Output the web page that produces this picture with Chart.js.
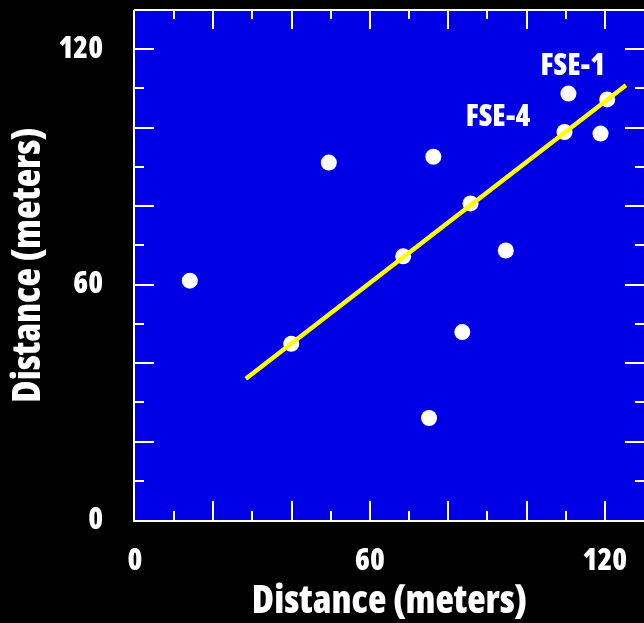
<!DOCTYPE html>
<html>
<head>
<meta charset="utf-8">
<script src="https://cdn.jsdelivr.net/npm/chart.js@4"></script>
<style>
  html, body { margin: 0; padding: 0; background: #000; overflow: hidden; }
  canvas { display: block; }
</style>
</head>
<body>
<canvas id="chart" width="644" height="623"></canvas>
<script>
var pointsX = [14.0, 39.9, 49.5, 68.5, 75.1, 76.2, 83.6, 85.7, 94.7, 109.7, 110.7, 118.9, 120.6];
var pointsY = [61.0, 44.9, 91.1, 67.2, 26.0, 92.6, 47.9, 80.7, 68.7, 98.9, 108.7, 98.5, 107.2];
var fitX = [28.3, 125.4];
var fitY = [36.0, 110.8];
var labelText = ['FSE-1', 'FSE-4'];
var labelX = [111.8, 92.7];
var labelY = [115.6, 102.6];
var tickLabels = [0, 60, 120];
var tickMarks = [10, 20, 30, 40, 50, 60, 70, 80, 90, 100, 110, 120];

var FONT = "'Open Sans', 'DejaVu Sans', sans-serif";
var WEIGHT = '800 condensed';

var points = pointsX.map(function(x, i) { return { x: x, y: pointsY[i] }; });
var fit = fitX.map(function(x, i) { return { x: x, y: fitY[i] }; });

// fond bleu, cadre et petites graduations vers l'intérieur
var frame = {
  id: 'frame',
  beforeDatasetsDraw: function(chart) {
    var ctx = chart.ctx, a = chart.chartArea;
    var sx = chart.scales.x, sy = chart.scales.y;
    ctx.save();
    ctx.fillStyle = '#0000e6';
    ctx.fillRect(a.left, a.top, a.right - a.left, a.bottom - a.top);
    ctx.strokeStyle = '#ffffff';
    ctx.lineWidth = 2;
    ctx.beginPath();
    ctx.moveTo(a.left - 1, a.top);
    ctx.lineTo(a.right, a.top);
    ctx.moveTo(a.left - 1, a.top);
    ctx.lineTo(a.left - 1, a.bottom + 2);
    ctx.moveTo(a.left - 2, a.bottom + 1);
    ctx.lineTo(a.right, a.bottom + 1);
    tickMarks.forEach(function(v) {
      var len = v % 20 === 0 ? 19 : 9;
      var px = Math.round(sx.getPixelForValue(v));
      var py = Math.round(sy.getPixelForValue(v));
      ctx.moveTo(px, a.bottom);
      ctx.lineTo(px, a.bottom - len);
      ctx.moveTo(px, a.top);
      ctx.lineTo(px, a.top + len);
      ctx.moveTo(a.left, py);
      ctx.lineTo(a.left + len, py);
      ctx.moveTo(a.right, py);
      ctx.lineTo(a.right - len, py);
    });
    ctx.stroke();
    ctx.restore();
  },
  afterDatasetsDraw: function(chart) {
    var ctx = chart.ctx;
    ctx.save();
    ctx.fillStyle = '#ffffff';
    ctx.font = WEIGHT + ' 30px ' + FONT;
    ctx.textAlign = 'center';
    ctx.textBaseline = 'middle';
    labelText.forEach(function(t, i) {
      ctx.fillText(t, chart.scales.x.getPixelForValue(labelX[i]), chart.scales.y.getPixelForValue(labelY[i]));
    });
    ctx.restore();
  }
};

function onlyLabels(scale) {
  scale.ticks = tickLabels.map(function(v) { return { value: v }; });
}

new Chart(document.getElementById('chart'), {
  type: 'scatter',
  data: {
    datasets: [
      {
        type: 'line',
        data: fit,
        borderColor: '#ffff00',
        borderWidth: 4.5,
        borderCapStyle: 'butt',
        pointRadius: 0,
        fill: false
      },
      {
        data: points,
        backgroundColor: '#ffffff',
        borderWidth: 0,
        pointRadius: 8,
        pointHoverRadius: 8
      }
    ]
  },
  options: {
    responsive: false,
    animation: false,
    events: [],
    layout: { autoPadding: false, padding: { top: 10, right: 0, left: 0, bottom: 0 } },
    plugins: { legend: { display: false }, tooltip: { enabled: false } },
    scales: {
      x: {
        type: 'linear',
        min: 0,
        max: 130,
        afterBuildTicks: onlyLabels,
        afterFit: function(s) {
          s.height = 103;
          s.paddingLeft = 0; s.paddingRight = 0;
        },
        grid: { display: false },
        border: { display: false },
        ticks: {
          color: '#ffffff',
          padding: 15,
          maxRotation: 0,
          font: { family: FONT, size: 30, weight: WEIGHT }
        },
        title: {
          display: true,
          text: 'Distance (meters)',
          color: '#ffffff',
          padding: { top: 0, bottom: 2 },
          font: { family: FONT, size: 38, weight: WEIGHT, lineHeight: 1 }
        }
      },
      y: {
        type: 'linear',
        min: 0,
        max: 130,
        afterBuildTicks: onlyLabels,
        afterFit: function(s) {
          s.width = 135;
          s.paddingTop = 0; s.paddingBottom = 0;
        },
        grid: { display: false },
        border: { display: false },
        ticks: {
          color: '#ffffff',
          padding: 24,
          font: { family: FONT, size: 30, weight: WEIGHT }
        },
        title: {
          display: true,
          text: 'Distance (meters)',
          color: '#ffffff',
          padding: { top: 10, bottom: 0 },
          font: { family: FONT, size: 38, weight: WEIGHT, lineHeight: 1 }
        }
      }
    }
  },
  plugins: [frame]
});
</script>
</body>
</html>
